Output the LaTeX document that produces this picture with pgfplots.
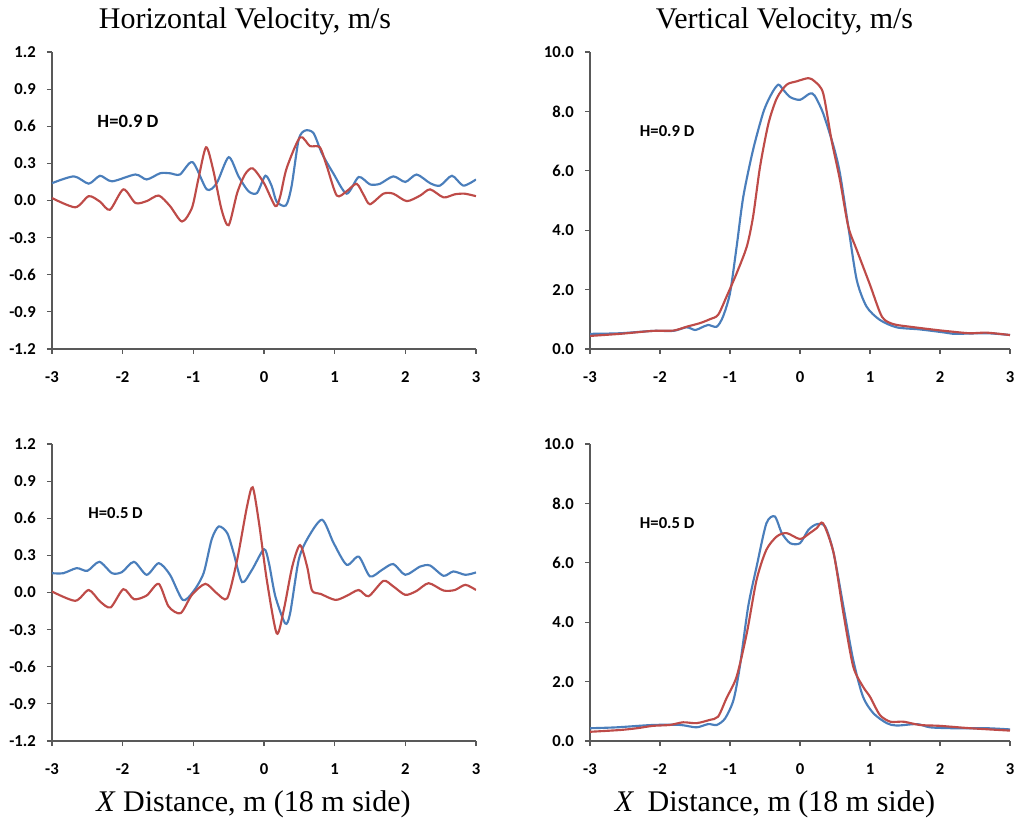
\documentclass[border=0pt]{standalone}
\usepackage{fontspec}
\setmainfont{Liberation Serif}
\newfontfamily\calibri{Carlito}
\usepackage{pgfplots}
\pgfplotsset{compat=1.18}
\definecolor{xlblue}{HTML}{4A7EBB}
\definecolor{xlred}{HTML}{BE4B48}
\definecolor{axgray}{HTML}{595959}
\pgfplotsset{
  base/.style={
    scale only axis, height=222.75pt,
    axis lines*=left,
    axis line style={axgray, line width=1pt},
    tick align=outside, major tick length=3.75pt,
    tick style={axgray, line width=0.9pt},
    xmin=-3, xmax=3, xtick={-3,-2,-1,0,1,2,3},
    xticklabels={-3,-2,-1,0,1,2,3},
    ticklabel style={font=\calibri\bfseries\fontsize{12.5}{14}\selectfont, text=black},
    xticklabel style={anchor=north, inner sep=0pt},
    yticklabel style={anchor=east, inner sep=0pt},
    xticklabel shift=13.2pt,
    yticklabel shift=8.25pt,
    every axis plot/.append style={line width=1.6pt, smooth, tension=0.45, no marks},
  },
  hax/.style={base, width=318pt, ymin=-1.2, ymax=1.2,
    ytick={-1.2,-0.9,-0.6,-0.3,0,0.3,0.6,0.9,1.2},
    yticklabels={-1.2,-0.9,-0.6,-0.3,0.0,0.3,0.6,0.9,1.2}},
  vax/.style={base, width=315pt, ymin=0, ymax=10,
    ytick={0,2,4,6,8,10},
    yticklabels={0.0,2.0,4.0,6.0,8.0,10.0}},
}
\begin{document}
\begin{tikzpicture}
\useasboundingbox (0,0) rectangle (760.5pt,616.5pt);
% top-left
\begin{axis}[hax, at={(39pt,354.75pt)}, anchor=south west]
\addplot[xlblue] coordinates {(-3,0.14) (-2.69,0.195) (-2.48,0.136) (-2.32,0.20) (-2.15,0.155) (-1.82,0.21) (-1.66,0.17) (-1.47,0.22) (-1.33,0.22) (-1.19,0.21) (-1.01,0.31) (-0.81,0.09) (-0.67,0.14) (-0.50,0.35) (-0.36,0.195) (-0.22,0.075) (-0.10,0.06) (0.02,0.20) (0.11,0.115) (0.18,-0.01) (0.31,-0.04) (0.39,0.115) (0.49,0.49) (0.58,0.565) (0.70,0.545) (0.82,0.38) (0.98,0.22) (1.17,0.055) (1.34,0.19) (1.50,0.13) (1.64,0.135) (1.83,0.195) (2.00,0.15) (2.16,0.21) (2.35,0.14) (2.49,0.12) (2.66,0.20) (2.82,0.12) (3.0,0.17)};
\addplot[xlred] coordinates {(-3,0.02) (-2.67,-0.055) (-2.48,0.035) (-2.32,-0.01) (-2.18,-0.075) (-1.99,0.09) (-1.82,-0.02) (-1.66,-0.005) (-1.49,0.04) (-1.33,-0.045) (-1.16,-0.17) (-1.02,-0.06) (-0.93,0.17) (-0.82,0.43) (-0.72,0.25) (-0.60,-0.075) (-0.50,-0.20) (-0.38,0.06) (-0.27,0.21) (-0.16,0.26) (0.0,0.14) (0.16,-0.045) (0.23,0.035) (0.32,0.26) (0.51,0.51) (0.65,0.44) (0.79,0.43) (0.89,0.275) (1.03,0.04) (1.17,0.075) (1.31,0.135) (1.41,0.045) (1.50,-0.03) (1.69,0.055) (1.83,0.055) (2.02,-0.005) (2.21,0.04) (2.35,0.09) (2.54,0.025) (2.70,0.05) (2.84,0.055) (3.0,0.035)};
\node[anchor=west, inner sep=0pt, font=\calibri\bfseries\fontsize{14}{16}\selectfont] at (axis cs:-2.36,0.64) {H=0.9 D};
\end{axis}
% top-right
\begin{axis}[vax, at={(442.5pt,354.75pt)}, anchor=south west]
\addplot[xlblue] coordinates {(-3,0.51) (-2.57,0.53) (-2.1,0.61) (-1.81,0.61) (-1.62,0.73) (-1.5,0.64) (-1.40,0.73) (-1.31,0.81) (-1.19,0.75) (-1.10,1.09) (-1.0,1.88) (-0.905,3.45) (-0.81,5.13) (-0.67,6.71) (-0.52,8.0) (-0.40,8.62) (-0.31,8.9) (-0.24,8.73) (-0.14,8.48) (0,8.39) (0.14,8.6) (0.21,8.53) (0.33,7.94) (0.48,6.82) (0.57,5.92) (0.69,4.12) (0.81,2.33) (0.95,1.43) (1.14,0.98) (1.38,0.73) (1.71,0.66) (2.05,0.56) (2.19,0.51) (2.67,0.53) (3,0.47)};
\addplot[xlred] coordinates {(-3,0.44) (-2.57,0.51) (-2.1,0.61) (-1.81,0.62) (-1.62,0.75) (-1.43,0.87) (-1.29,1.0) (-1.17,1.15) (-1.05,1.76) (-0.905,2.55) (-0.76,3.45) (-0.67,4.46) (-0.57,6.15) (-0.45,7.6) (-0.33,8.45) (-0.19,8.9) (-0.05,9.01) (0.12,9.12) (0.21,9.01) (0.33,8.62) (0.45,7.04) (0.57,5.7) (0.69,4.12) (0.81,3.34) (1.0,2.16) (1.17,1.09) (1.33,0.84) (1.57,0.75) (1.95,0.64) (2.19,0.58) (2.43,0.53) (2.67,0.55) (3,0.47)};
\node[anchor=west, inner sep=0pt, font=\calibri\bfseries\fontsize{12.5}{14}\selectfont] at (axis cs:-2.29,7.35) {H=0.9 D};
\end{axis}
% bottom-left
\begin{axis}[hax, at={(39pt,60.75pt)}, anchor=south west]
\addplot[xlblue] coordinates {(-3,0.156) (-2.84,0.156) (-2.65,0.197) (-2.50,0.175) (-2.33,0.248) (-2.15,0.156) (-2.01,0.165) (-1.84,0.248) (-1.66,0.143) (-1.49,0.237) (-1.33,0.143) (-1.15,-0.06) (-1.0,0.008) (-0.855,0.156) (-0.74,0.43) (-0.64,0.534) (-0.52,0.48) (-0.43,0.32) (-0.31,0.084) (-0.17,0.183) (0.0,0.35) (0.07,0.237) (0.16,-0.03) (0.30,-0.25) (0.37,-0.167) (0.49,0.26) (0.61,0.43) (0.82,0.588) (0.985,0.40) (1.17,0.224) (1.34,0.29) (1.50,0.13) (1.67,0.183) (1.83,0.23) (2.0,0.143) (2.21,0.21) (2.35,0.218) (2.54,0.135) (2.68,0.17) (2.85,0.143) (3,0.162)};
\addplot[xlred] coordinates {(-3,0.008) (-2.67,-0.067) (-2.48,0.02) (-2.32,-0.073) (-2.17,-0.12) (-1.99,0.027) (-1.84,-0.054) (-1.66,-0.024) (-1.49,0.07) (-1.35,-0.113) (-1.18,-0.167) (-1.02,-0.019) (-0.83,0.07) (-0.67,-0.005) (-0.52,-0.046) (-0.38,0.264) (-0.24,0.696) (-0.16,0.85) (-0.07,0.56) (0.04,0.10) (0.18,-0.33) (0.28,-0.14) (0.40,0.21) (0.51,0.383) (0.61,0.21) (0.68,0.016) (0.80,-0.011) (1.01,-0.06) (1.17,-0.027) (1.34,0.02) (1.48,-0.03) (1.69,0.094) (1.83,0.049) (2.0,-0.019) (2.16,0.013) (2.33,0.075) (2.54,0.016) (2.70,0.02) (2.85,0.062) (3,0.02)};
\node[anchor=west, inner sep=0pt, font=\calibri\bfseries\fontsize{12.5}{14}\selectfont] at (axis cs:-2.49,0.645) {H=0.5 D};
\end{axis}
% bottom-right
\begin{axis}[vax, at={(442.5pt,60.75pt)}, anchor=south west]
\addplot[xlblue] coordinates {(-3,0.43) (-2.62,0.46) (-2.1,0.54) (-1.71,0.54) (-1.48,0.46) (-1.31,0.57) (-1.19,0.54) (-1.07,0.76) (-0.95,1.38) (-0.86,2.5) (-0.74,4.53) (-0.62,5.87) (-0.48,7.33) (-0.36,7.56) (-0.26,7.0) (-0.14,6.66) (0,6.66) (0.12,7.11) (0.24,7.3) (0.36,7.22) (0.48,6.33) (0.62,4.53) (0.76,2.73) (0.90,1.49) (1.05,0.93) (1.24,0.6) (1.38,0.52) (1.67,0.57) (1.86,0.46) (2.19,0.43) (2.67,0.43) (3,0.39)};
\addplot[xlred] coordinates {(-3,0.31) (-2.57,0.37) (-2.33,0.43) (-2.1,0.51) (-1.86,0.54) (-1.67,0.63) (-1.48,0.6) (-1.29,0.71) (-1.17,0.82) (-1.05,1.44) (-0.905,2.17) (-0.76,3.63) (-0.62,5.43) (-0.48,6.44) (-0.33,6.89) (-0.19,7.0) (0,6.8) (0.14,7.0) (0.24,7.17) (0.33,7.33) (0.48,6.33) (0.62,4.3) (0.76,2.51) (0.90,1.83) (1.0,1.49) (1.14,0.88) (1.29,0.65) (1.48,0.65) (1.71,0.54) (2.0,0.51) (2.43,0.43) (3,0.35)};
\node[anchor=west, inner sep=0pt, font=\calibri\bfseries\fontsize{12.5}{14}\selectfont] at (axis cs:-2.29,7.35) {H=0.5 D};
\end{axis}
% titles
\node[anchor=base, inner sep=0pt, font=\fontsize{22.5}{26}\selectfont] at (183.75pt,594.75pt) {Horizontal Velocity, m/s};
\node[anchor=base, inner sep=0pt, font=\fontsize{22.5}{26}\selectfont] at (588.4pt,594.75pt) {Vertical Velocity, m/s};
\node[anchor=base, inner sep=0pt, font=\fontsize{22.5}{26}\selectfont] at (190.1pt,8.25pt) {\textit{X} Distance, m (18 m side)};
\node[anchor=base, inner sep=0pt, font=\fontsize{22.5}{26}\selectfont] at (581.25pt,8.25pt) {\textit{X}\hspace{0.45em}Distance, m (18 m side)};
\end{tikzpicture}
\end{document}
